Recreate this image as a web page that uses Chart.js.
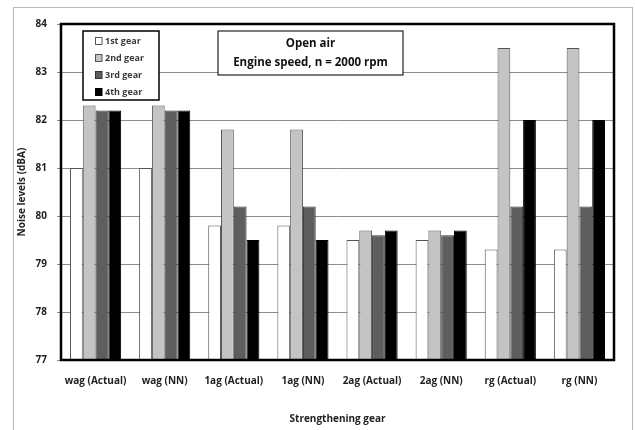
<!DOCTYPE html>
<html>
<head>
<meta charset="utf-8">
<script src="https://cdn.jsdelivr.net/npm/chart.js@4.4.1/dist/chart.umd.min.js"></script>
<style>
  html, body { margin: 0; padding: 0; background: #fff; }
  #wrap { width: 635px; height: 430px; position: relative; }
</style>
</head>
<body>
<div id="wrap"><canvas id="c" width="635" height="430"></canvas></div>
<script>
// Noise levels per strengthening gear, for each transmission gear
const categories = ['wag (Actual)', 'wag (NN)', '1ag (Actual)', '1ag (NN)', '2ag (Actual)', '2ag (NN)', 'rg (Actual)', 'rg (NN)'];
const gear1 = [81.0, 81.0, 79.8, 79.8, 79.5, 79.5, 79.3, 79.3];
const gear2 = [82.3, 82.3, 81.8, 81.8, 79.7, 79.7, 83.5, 83.5];
const gear3 = [82.2, 82.2, 80.2, 80.2, 79.6, 79.6, 80.2, 80.2];
const gear4 = [82.2, 82.2, 79.5, 79.5, 79.7, 79.7, 82.0, 82.0];
const seriesNames = ['1st gear', '2nd gear', '3rd gear', '4th gear'];
const yTicks = [77, 78, 79, 80, 81, 82, 83, 84];
const titleLines = ['Open air', 'Engine speed, n = 2000 rpm'];

const FONT = "'Open Sans', 'Liberation Sans', sans-serif";

const fills = ['#ffffff', '#c4c4c4', '#5e5e5e', '#000000'];
const edges = ['#555555', '#555555', '#333333', '#000000'];

// Frame, plot border, legend box and title box
const decor = {
  id: 'decor',
  beforeDraw(chart) {
    const ctx = chart.ctx;
    ctx.save();
    ctx.fillStyle = '#fff';
    ctx.fillRect(0, 0, chart.width, chart.height);
    ctx.strokeStyle = '#b8b8b8';
    ctx.lineWidth = 1;
    ctx.strokeRect(13.5, 7.5, 619, 440);
    ctx.restore();
  },
  afterDatasetsDraw(chart) {
    const ctx = chart.ctx;
    const a = chart.chartArea;
    ctx.save();
    // plot border
    ctx.strokeStyle = '#000';
    ctx.lineWidth = 2.5;
    ctx.strokeRect(a.left, a.top, a.right - a.left, a.bottom - a.top);

    // legend
    const lx = a.left + 22, ly = a.top + 7, lw = 76, lh = 69;
    ctx.fillStyle = '#fff';
    ctx.fillRect(lx, ly, lw, lh);
    ctx.lineWidth = 1.5;
    ctx.strokeStyle = '#000';
    ctx.strokeRect(lx, ly, lw, lh);
    ctx.font = "bold 9px " + FONT;
    ctx.textBaseline = 'middle';
    chart.data.datasets.forEach((ds, i) => {
      const cy = ly + 10 + i * 17;
      ctx.fillStyle = ds.backgroundColor;
      ctx.fillRect(lx + 12, cy - 3.5, 7, 7);
      ctx.lineWidth = 1;
      ctx.strokeStyle = ds.borderColor;
      ctx.strokeRect(lx + 12.5, cy - 3.5, 6.5, 7);
      ctx.fillStyle = '#3a3a3a';
      ctx.textAlign = 'left';
      ctx.fillText(ds.label, lx + 22, cy);
    });

    // title box
    const tx = 218, ty = 31, tw = 185, th = 44;
    ctx.fillStyle = '#fff';
    ctx.fillRect(tx, ty, tw, th);
    ctx.lineWidth = 1.2;
    ctx.strokeStyle = '#222';
    ctx.strokeRect(tx, ty, tw, th);
    ctx.fillStyle = '#111';
    ctx.font = "bold 11.5px " + FONT;
    ctx.textAlign = 'center';
    ctx.fillText(titleLines[0], tx + tw / 2, ty + 13);
    ctx.fillText(titleLines[1], tx + tw / 2, ty + 32);
    ctx.restore();
  }
};

const datasets = [gear1, gear2, gear3, gear4].map((vals, i) => ({
  label: seriesNames[i],
  data: vals,
  backgroundColor: fills[i],
  borderColor: edges[i],
  borderWidth: 1,
  borderSkipped: 'bottom',
  barPercentage: 1.0,
  categoryPercentage: 0.74,
  base: 77
}));

new Chart(document.getElementById('c'), {
  type: 'bar',
  data: { labels: categories, datasets },
  plugins: [decor],
  options: {
    responsive: false,
    animation: false,
    layout: { padding: { left: 0, top: 24, right: 21, bottom: 0 } },
    plugins: { legend: { display: false }, tooltip: { enabled: false } },
    scales: {
      x: {
        grid: { display: false },
        border: { display: false },
        ticks: { color: '#222', font: { family: FONT, size: 10, weight: 'bold' }, padding: 7, maxRotation: 0, autoSkip: false },
        title: { display: true, text: 'Strengthening gear', color: '#222', font: { family: FONT, size: 10, weight: 'bold' }, padding: { top: 4, bottom: 5 } },
        afterFit(s) { s.height = 70; }
      },
      y: {
        min: 77, max: 84,
        afterBuildTicks(s) { s.ticks = yTicks.map(v => ({ value: v })); },
        grid: { color: '#8c8c8c', lineWidth: 1, tickLength: 4, drawTicks: true },
        border: { display: false },
        ticks: { color: '#222', font: { family: FONT, size: 10, weight: 'bold' }, padding: 10 },
        title: { display: true, text: 'Noise levels (dBA)', color: '#222', font: { family: FONT, size: 10, weight: 'bold' }, padding: { top: 16, bottom: 0 } },
        afterFit(s) { s.width = 61; }
      }
    }
  }
});
</script>
</body>
</html>
